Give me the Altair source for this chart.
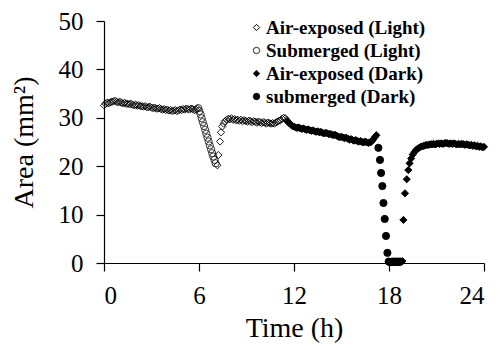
import altair as alt
import pandas as pd

SERIES = ["Air-exposed (Light)", "Submerged (Light)", "Air-exposed (Dark)", "submerged (Dark)"]
SHAPES = ["diamond", "circle", "diamond", "circle"]
FILLS = ["transparent", "transparent", "black", "black"]
STROKES = ["black", "#222222", "black", "black"]

X_TICKS = [0, 6, 12, 18, 24]
Y_TICKS = [0, 10, 20, 30, 40, 50]

STEP = 0.1

# Air-exposed (Light), dense part 0.0 .. 5.9 h
a1_start = 0.0
a1_vals = [32.6, 32.9, 33.1, 33.0, 33.2, 33.3, 33.4, 33.5, 33.3, 33.2,
           33.3, 33.1, 33.0, 33.1, 32.9, 32.9, 32.8, 32.9, 32.7, 32.6,
           32.7, 32.5, 32.6, 32.4, 32.4, 32.3, 32.4, 32.2, 32.2, 32.3,
           32.1, 32.0, 32.1, 31.9, 31.9, 32.0, 31.8, 31.7, 31.8, 31.6,
           31.7, 31.5, 31.6, 31.4, 31.5, 31.6, 31.4, 31.5, 31.7, 31.6,
           31.8, 31.7, 31.9, 31.8, 31.7, 31.9, 31.8, 31.6, 31.7, 31.9]

# Submerged (Light)
b_t = [5.95, 6.02, 6.10, 6.17, 6.24, 6.32, 6.39, 6.46, 6.54, 6.61, 6.68, 6.76, 6.83, 6.90, 6.98, 7.05]
b_vals = [32.0, 31.4, 30.7, 29.9, 29.1, 28.3, 27.5, 26.7, 25.9, 25.1, 24.3, 23.5, 22.7, 22.0, 21.3, 20.6]

# Air-exposed (Light), recovery points
a2_t = [7.16, 7.22, 7.33, 7.39, 7.47]
a2_vals = [20.2, 22.3, 25.1, 27.0, 28.2]

# Air-exposed (Light), dense part 7.55 .. 11.55 h
a3_start = 7.55
a3_vals = [28.8, 29.3, 29.6, 29.8, 29.7, 29.9, 29.6, 29.7, 29.5, 29.6,
           29.4, 29.6, 29.3, 29.5, 29.4, 29.2, 29.4, 29.3, 29.1, 29.3,
           29.2, 29.0, 29.2, 29.1, 28.9, 29.1, 29.0, 28.8, 29.0, 28.9,
           28.8, 28.9, 28.8, 29.0, 29.2, 29.4, 29.5, 29.8, 30.0, 29.9, 29.5]

# Air-exposed (Dark), dense part 11.6 .. 17.2 h
d1_start = 11.6
d1_vals = [29.2, 28.9, 28.6, 28.3, 28.2, 28.0, 27.9, 28.0, 27.8, 27.7,
           27.8, 27.6, 27.5, 27.6, 27.4, 27.3, 27.4, 27.2, 27.1, 27.2,
           27.0, 27.1, 26.9, 26.8, 26.9, 26.8, 26.6, 26.7, 26.5, 26.4,
           26.5, 26.3, 26.1, 26.0, 26.1, 25.9, 25.8, 25.9, 25.7, 25.5,
           25.6, 25.4, 25.3, 25.4, 25.2, 25.1, 25.2, 25.0, 24.9, 25.1,
           24.9, 24.8, 24.9, 25.1, 25.5, 26.0, 26.4]

# submerged (Dark)
e_t = [17.33, 17.43, 17.50, 17.58, 17.65, 17.73, 17.81, 17.90,
       17.98, 18.06, 18.14, 18.22, 18.30, 18.38, 18.46, 18.54, 18.62, 18.70]
e_vals = [23.8, 21.3, 18.6, 15.9, 12.4, 9.1, 5.6, 2.1,
          0.3, 0.2, 0.2, 0.3, 0.2, 0.3, 0.2, 0.3, 0.2, 0.3]

# Air-exposed (Dark), recovery points
d2_t = [18.77, 18.85, 18.91, 19.01, 19.12, 19.22]
d2_vals = [0.3, 0.4, 8.9, 14.4, 17.3, 19.2]

# Air-exposed (Dark), dense part 19.3 .. 24.0 h
d3_start = 19.3
d3_vals = [20.6, 21.6, 22.4, 22.9, 23.3, 23.6, 23.8, 24.0, 24.1, 24.2,
           24.3, 24.4, 24.4, 24.5, 24.5, 24.6, 24.5, 24.6, 24.7, 24.6,
           24.7, 24.6, 24.7, 24.8, 24.7, 24.6, 24.7, 24.6, 24.7, 24.6,
           24.5, 24.6, 24.5, 24.6, 24.5, 24.4, 24.5, 24.4, 24.3, 24.4,
           24.2, 24.3, 24.1, 24.2, 24.0, 24.1, 23.9, 24.0]


def grid(start, vals):
    return [round(start + i * STEP, 3) for i in range(len(vals))]


rows = []
def add(ts, vs, s):
    for t, v in zip(ts, vs):
        rows.append({"t": t, "area": v, "series": s})

add(grid(a1_start, a1_vals), a1_vals, SERIES[0])
add(b_t, b_vals, SERIES[1])
add(a2_t, a2_vals, SERIES[0])
add(grid(a3_start, a3_vals), a3_vals, SERIES[0])
add(grid(d1_start, d1_vals), d1_vals, SERIES[2])
add(e_t, e_vals, SERIES[3])
add(d2_t, d2_vals, SERIES[2])
add(grid(d3_start, d3_vals), d3_vals, SERIES[2])

df = pd.DataFrame(rows)
df["order"] = range(len(df))

FONT = "Liberation Serif"

legend = alt.Legend(title=None)

chart = alt.Chart(df).mark_point(
    filled=False, strokeWidth=0.9, size=52, opacity=1
).encode(
    x=alt.X("t:Q", scale=alt.Scale(domain=[0, 24], nice=False),
            axis=alt.Axis(values=X_TICKS, title="Time (h)", grid=False,
                          tickSize=8, labelPadding=12, titlePadding=6)),
    y=alt.Y("area:Q", scale=alt.Scale(domain=[0, 50], nice=False),
            axis=alt.Axis(values=Y_TICKS, title="Area (mm²)", grid=False,
                          tickSize=8, labelPadding=13, titlePadding=20)),
    shape=alt.Shape("series:N", scale=alt.Scale(domain=SERIES, range=SHAPES),
                    legend=legend),
    fill=alt.Fill("series:N", scale=alt.Scale(domain=SERIES, range=FILLS),
                  legend=legend),
    stroke=alt.Stroke("series:N", scale=alt.Scale(domain=SERIES, range=STROKES),
                      legend=legend),
    order="order:Q",
).properties(
    width=380, height=242,
    autosize=alt.AutoSizeParams(type="none"),
    padding={"left": 96, "top": 13, "right": 8, "bottom": 87},
).configure_view(stroke=None).configure_axis(
    labelFont=FONT, titleFont=FONT, labelFontSize=25, titleFontSize=28,
    labelColor="black", titleColor="black", titleFontWeight="normal",
    domainColor="black", tickColor="black", domainWidth=1.2, tickWidth=1.2,
).configure_legend(
    orient="none", legendX=143, legendY=-3, padding=0,
    symbolSize=40, symbolStrokeWidth=1,
    labelFont=FONT, labelFontSize=19, labelFontWeight="bold", labelColor="black",
    labelOffset=0, rowPadding=3, labelLimit=400,
)

chart.save("out.html", embed_options={"renderer": "svg", "actions": False})
